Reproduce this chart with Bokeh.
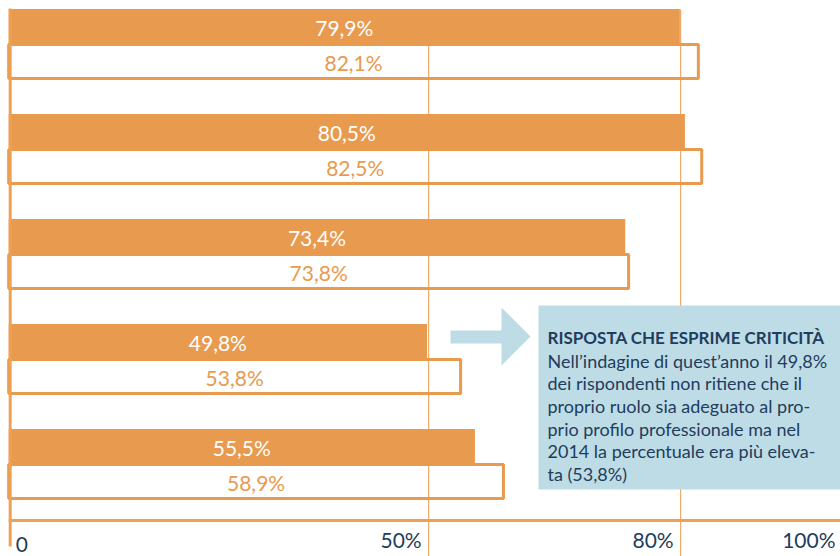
from bokeh.plotting import figure
from bokeh.models import Range1d, ColumnDataSource
from bokeh.core.properties import value
from bokeh.embed import file_html
from bokeh.resources import INLINE

# ---- data ----
values_2015 = [79.9, 80.5, 73.4, 49.8, 55.5]
values_2014 = [82.1, 82.5, 73.8, 53.8, 58.9]
tick_values = [0, 50, 80, 100]
tick_labels = ["0", "50%", "80%", "100%"]
note_title = "RISPOSTA CHE ESPRIME CRITICITÀ"
note_lines = [
    "Nell’indagine di quest’anno il 49,8%",
    "dei rispondenti non ritiene che il",
    "proprio ruolo sia adeguato al pro-",
    "prio profilo professionale ma nel",
    "2014 la percentuale era più eleva-",
    "ta (53,8%)",
]


def fmt(v):
    return f"{v:.1f}".replace(".", ",") + "%"


# ---- layout constants (picture pixels) ----
W, H = 840, 556
SCALE = 8.4          # px per percent
ORIGIN = 8.2         # x pixel of 0%


def pct(px):
    return (px - ORIGIN) / SCALE


X0 = pct(0)
X1 = pct(W)

ORANGE = "#E89A4E"
AXIS_ORANGE = "#F0A052"
NAVY = "#1F3D5C"
BLUE = "#BEDCE6"
FONT = "Lato"

p = figure(width=W, height=H, x_range=Range1d(X0, X1), y_range=Range1d(H, 0),
           output_backend="svg", toolbar_location=None,
           x_axis_location=None, y_axis_location=None, min_border=0,
           outline_line_color=None, background_fill_color="white")
p.xgrid.visible = False
p.ygrid.visible = False

n = len(values_2015)
tops = [8.5 + 105 * i for i in range(n)]
src = ColumnDataSource(dict(
    v15=values_2015, v14=values_2014,
    l15=[fmt(v) for v in values_2015], l14=[fmt(v) for v in values_2014],
    m15=[v / 2 for v in values_2015], m14=[v / 2 for v in values_2014],
    yf=[t + 18.25 for t in tops],
    ot=[t + 35.5 for t in tops], ob=[t + 69.5 for t in tops],
    yo=[t + 53 for t in tops],
))

# outlined (2014) bars
p.quad(left=0, right="v14", top="ot", bottom="ob", source=src,
       fill_color="white", line_color=ORANGE, line_width=3)
# filled (2015) bars
p.hbar(y="yf", height=36.5, left=0, right="v15", source=src,
       fill_color=ORANGE, line_color=None)

# gridlines
p.segment(x0=[50, 80], x1=[50, 80], y0=[9, 9], y1=[H, H],
          line_color=ORANGE, line_width=1)

# axis lines
p.segment(x0=[pct(9.7)], x1=[pct(9.7)], y0=[8], y1=[546], line_color=AXIS_ORANGE, line_width=3)
p.segment(x0=[0], x1=[X1], y0=[520], y1=[520], line_color=AXIS_ORANGE, line_width=3)

# bar labels
p.text(x="m15", y="yf", text="l15", source=src, text_color="white",
       text_font=value(FONT), text_font_size="21px", text_align="center",
       text_baseline="middle")
p.text(x="m14", y="yo", text="l14", source=src, text_color=ORANGE,
       text_font=value(FONT), text_font_size="21px", text_align="center",
       text_baseline="middle")

# tick labels
tick_offsets = [7, -7, -7, -5]
for v, lab, off in zip(tick_values, tick_labels, tick_offsets):
    xv = min(v, X1)
    p.text(x=[xv], y=[551], text=[lab], x_offset=off, text_color=NAVY,
           text_font=value(FONT), text_font_size="21px",
           text_align="left" if off > 0 else "right", text_baseline="bottom")

# annotation arrow
arrow_px = [(450, 330), (501, 330), (501, 307), (530, 336), (501, 365), (501, 343), (450, 343)]
p.patch(x=[pct(a) for a, b in arrow_px], y=[b for a, b in arrow_px],
        fill_color=BLUE, line_color=None)

# annotation box
p.quad(left=[pct(538)], right=[X1], top=[305], bottom=[489], fill_color=BLUE, line_color=None)
p.text(x=[pct(547)], y=[337], text=[note_title], text_color=NAVY,
       text_font=value(FONT), text_font_size="17px", text_font_style="bold",
       text_align="left", text_baseline="alphabetic")
p.text(x=[pct(547)] * len(note_lines), y=[360 + 22.7 * i for i in range(len(note_lines))],
       text=note_lines, text_color=NAVY, text_font=value(FONT), text_font_size="18px",
       text_align="left", text_baseline="alphabetic")

open("out.html", "w").write(file_html(p, INLINE))
